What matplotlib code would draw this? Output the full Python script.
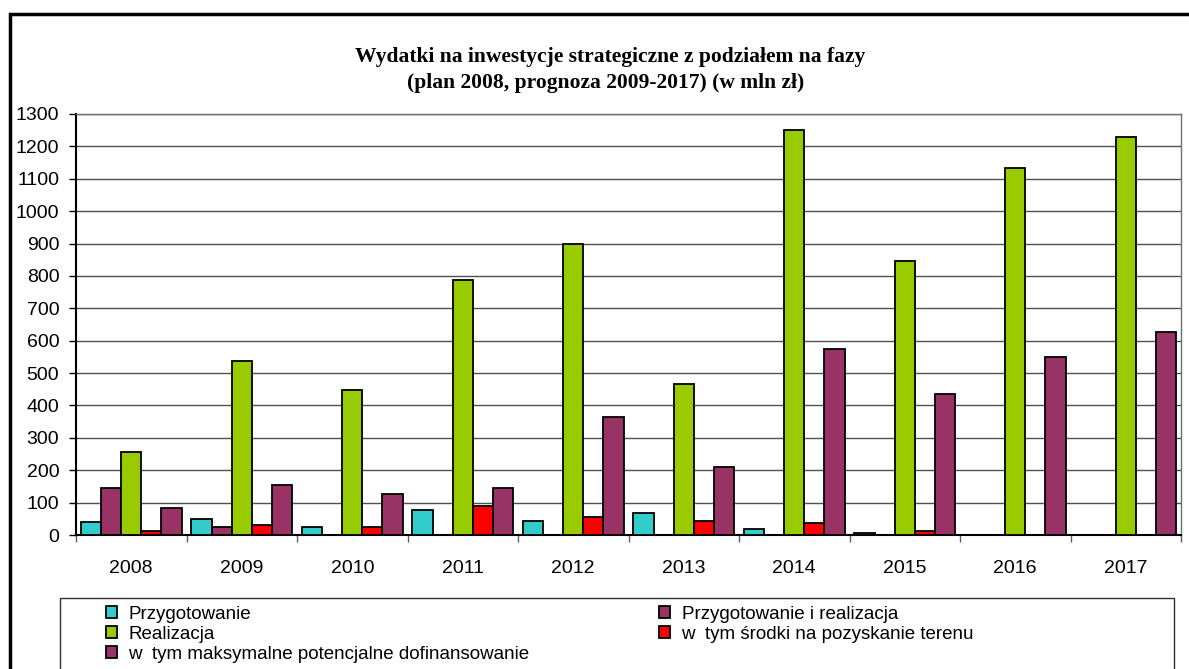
import numpy as np
import matplotlib
matplotlib.use('Agg')
import matplotlib.pyplot as plt
from matplotlib.patches import Rectangle

# data (mln zł)
years = ['2008', '2009', '2010', '2011', '2012', '2013', '2014', '2015', '2016', '2017']
przygotowanie = [41, 48, 25, 78, 42, 67, 19, 6, 0, 0]
przyg_i_realizacja = [144, 25, 0, 0, 0, 0, 0, 0, 0, 0]
realizacja = [257, 537, 447, 788, 900, 465, 1252, 847, 1133, 1229]
srodki_teren = [12, 31, 25, 91, 56, 42, 37, 12, 0, 0]
dofinansowanie = [84, 154, 126, 144, 365, 209, 574, 436, 550, 627]

labels = ['Przygotowanie', 'Przygotowanie i realizacja', 'Realizacja',
          'w  tym środki na pozyskanie terenu',
          'w  tym maksymalne potencjalne dofinansowanie']
colors = ['#33CCCC', '#993366', '#99CC00', '#FF0000', '#993366']

plt.rcParams['font.family'] = ['Liberation Sans', 'DejaVu Sans']

W, H = 1189, 669
fig = plt.figure(figsize=(W / 100, H / 100), dpi=100)
ax = fig.add_axes([76 / W, 134 / H, 1105 / W, 421 / H])

x = np.arange(len(years))
w = 0.182
series = [przygotowanie, przyg_i_realizacja, realizacja, srodki_teren, dofinansowanie]
handles = []
for i, (vals, lab, col) in enumerate(zip(series, labels, colors)):
    b = ax.bar(x + (i - 2) * w, vals, w, color=col, edgecolor='black',
               linewidth=1.3, label=lab, zorder=3)
    handles.append(b)

ax.set_xlim(-0.5, 9.5)
ax.set_ylim(0, 1300)
ax.set_yticks(range(0, 1301, 100))
ax.set_xticks(x)
ax.set_xticklabels(years)
ax.set_xticks(np.arange(-0.5, 10, 1), minor=True)
ax.tick_params(axis='x', which='major', length=0, pad=18, labelsize=14)
ax.tick_params(axis='x', which='minor', length=5, width=1, color='#606060')
ax.tick_params(axis='y', length=5, width=1, pad=7, labelsize=14)
ax.set_axisbelow(True)
ax.yaxis.grid(True, color='#505050', linewidth=1)
ax.spines['left'].set_linewidth(1.5)
ax.spines['bottom'].set_linewidth(1.5)
for s in ['top', 'right']:
    ax.spines[s].set_color('#707070')
    ax.spines[s].set_linewidth(1)

# title
fig.text(610 / W, 1 - 57 / H, 'Wydatki na inwestycje strategiczne z podziałem na fazy',
         ha='center', va='center', family='Liberation Serif', weight='bold', size=15.5)
fig.text(606 / W, 1 - 83 / H, '(plan 2008, prognoza 2009-2017) (w mln zł)',
         ha='center', va='center', family='Liberation Serif', weight='bold', size=15.5)

# legend (filled column-wise, so reorder to get the row order of the original)
order = [0, 2, 4, 1, 3]
fig.legend([handles[i] for i in order], [labels[i] for i in order],
           loc='upper left', bbox_to_anchor=(106 / W, 1 - 606 / H), ncol=2,
           frameon=False, fontsize=13.5, handlelength=0.6, handleheight=0.6,
           handletextpad=0.6, labelspacing=0.15, columnspacing=6.9,
           borderaxespad=0, borderpad=0)
fig.add_artist(Rectangle((60 / W, -0.02), (1174 - 60) / W, 0.02 + (669 - 598) / H,
                         transform=fig.transFigure, fill=False,
                         edgecolor='#303030', linewidth=1))

# outer chart frame
fig.add_artist(Rectangle((10 / W, -0.02), 1.05, 0.02 + (669 - 14) / H,
                         transform=fig.transFigure, fill=False,
                         edgecolor='black', linewidth=2.5, clip_on=False))

fig.savefig('out.png', dpi=100)
